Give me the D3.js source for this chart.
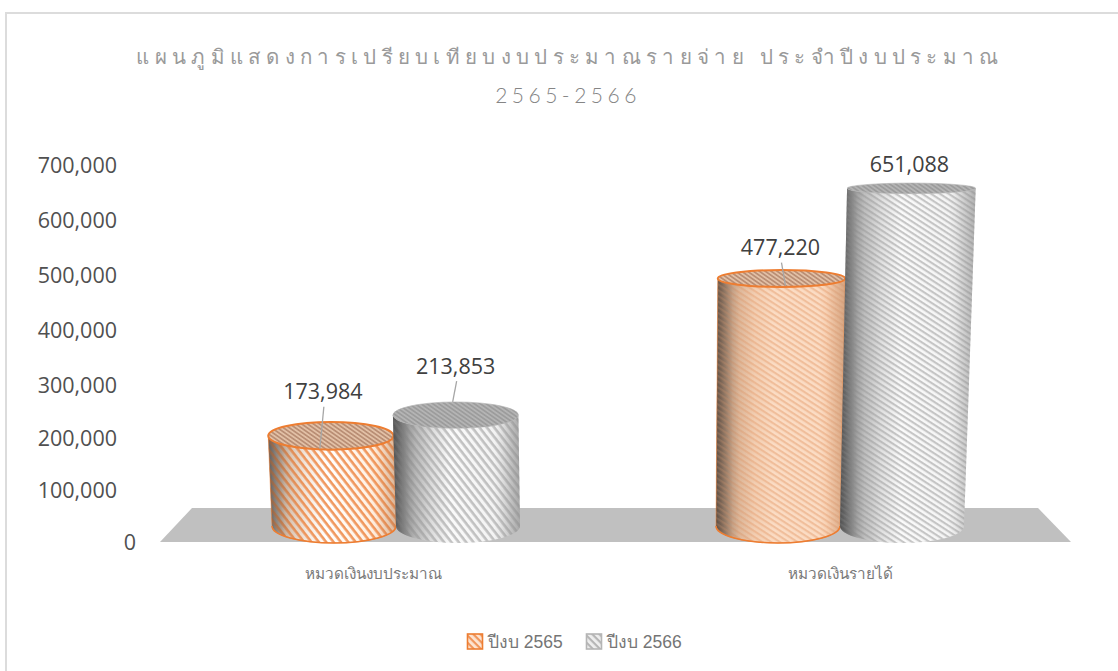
<!DOCTYPE html>
<html><head><meta charset="utf-8">
<script src="https://cdn.jsdelivr.net/npm/d3@7"></script>
<style>html,body{margin:0;padding:0;background:#fff}svg{display:block}</style>
</head><body><svg id="c" width="1118" height="671"></svg>
<script>
const categories = ["หมวดเงินงบประมาณ", "หมวดเงินรายได้"];
const seriesNames = ["ปีงบ 2565", "ปีงบ 2566"];
const values2565 = [173984, 477220];
const values2566 = [213853, 651088];
const yTicks = [0, 100000, 200000, 300000, 400000, 500000, 600000, 700000];
const titleLines = ["แผนภูมิแสดงการเปรียบเทียบงบประมาณรายจ่าย ประจำปีงบประมาณ", "2565-2566"];

const svg = d3.select("#c");
const defs = svg.append("defs");
const fmt = d3.format(",");
const FONT = "'Open Sans','Noto Sans',sans-serif";
const THIN = "'Liberation Sans','Noto Sans',sans-serif";
const LIGHT = "'Lato','Noto Sans',sans-serif";

// frame: only the top and left edges are visible
svg.append("path").attr("d","M6,671 V13 H1118").attr("fill","none").attr("stroke","#dcdcdc").attr("stroke-width",2);

// scales
const y = d3.scaleLinear().domain([0,700000]).range([526,163]);
const yLabel = d3.scaleLinear().domain([0,200000,300000,700000]).range([541,437,384,164]);
const ry = d3.scaleLinear().domain([0,700000]).range([17,4.4]);
const spread = d3.scaleLinear().domain([0,700000]).range([1,1.04]);
const x0 = d3.scaleBand().domain(categories).range([174,1062]);
const barW = 124, vanishX = 650;
const cx = (c,s) => x0(c)+x0.bandwidth()/2 + (seriesNames.indexOf(s)*2-1)*barW/2;

// floor
svg.append("polygon").attr("points",[[192,508],[1038,508],[1071,542],[160,542]].join(" ")).attr("fill","#c0c0c0");

const palette = {
  [seriesNames[0]]: {stripe:["#ee8d4e","#e9aa80"], edge:"#ed7d31",
     shade:[["#8d8d8d","#e6cdb8","#ffffff","#fff1e4","#f3c8a6"],["#8a6a52","#e8bd9c","#fbdcc4","#fbdcc4","#f0b68c"]]},
  [seriesNames[1]]: {stripe:["#a0a0a0","#a6a6a6"], edge:"#b5b5b5",
     shade:[["#707070","#b8b8b8","#fafafa","#f3f3f3","#b9b9b9"],["#707070","#c0c0c0","#fbfbfb","#f5f5f5","#c4c4c4"]]}
};
const edgeShade = defs.append("linearGradient").attr("id","edgeShade");
[[0,.55],[.06,.36],[.18,.08],[.3,0],[.85,0],[1,.14]].forEach(([o,a])=>
  edgeShade.append("stop").attr("offset",o).attr("stop-color","#3a3a3a").attr("stop-opacity",a));
seriesNames.forEach((s,i)=>{
  const p = palette[s];
  [0,1].forEach(c=>{
    const g = defs.append("linearGradient").attr("id",`grad${i}${c}`);
    [0,.13,.45,.8,1].forEach((o,k)=>g.append("stop").attr("offset",o).attr("stop-color",p.shade[c][k]));
  });
  [[5.8,52,0],[4.8,33,1]].forEach(([per,ang,c])=>{
    const pat = defs.append("pattern").attr("id",`st${i}${c}`).attr("patternUnits","userSpaceOnUse")
      .attr("width",per).attr("height",per).attr("patternTransform",`rotate(${ang})`);
    pat.append("rect").attr("width",per).attr("height",per*0.45).attr("fill",p.stripe[c]);
  });
  const pt = defs.append("pattern").attr("id","top"+i).attr("patternUnits","userSpaceOnUse").attr("width",3.4).attr("height",3.4).attr("patternTransform","rotate(35)");
  pt.append("rect").attr("width",3.4).attr("height",3.4).attr("fill",i?"#b4b4b4":"#e2c0a6");
  pt.append("rect").attr("width",3.4).attr("height",1.7).attr("fill",i?"#9c9c9c":"#b98e74");
  const ic = defs.append("pattern").attr("id","ic"+i).attr("patternUnits","userSpaceOnUse").attr("width",5).attr("height",5).attr("patternTransform","rotate(45)");
  ic.append("rect").attr("width",5).attr("height",5).attr("fill",i?"#efefef":"#fde6d4");
  ic.append("rect").attr("width",5).attr("height",2.2).attr("fill",i?"#b5b5b5":"#f0955a");
});
defs.append("filter").attr("id","soft").attr("x","-5%").attr("y","-5%").attr("width","110%").attr("height","110%")
  .append("feGaussianBlur").attr("stdDeviation",0.6);

const rowsLayout = [{dx:-8,dy:-45},{dx:0,dy:-50},{dx:-1,dy:-32},{dx:-2,dy:-25}];
const rows = [];
categories.forEach((c,ci)=>{
  rows.push({c,s:seriesNames[0],v:values2565[ci],ci,si:0});
  rows.push({c,s:seriesNames[1],v:values2566[ci],ci,si:1});
});
rows.forEach((r,i)=>Object.assign(r,rowsLayout[i]));

const geo = d => {
  const bx = cx(d.c,d.s), k = spread(d.v);
  const tx = vanishX+(bx-vanishX)*k, hw = barW/2*k;
  return {bx,tx,hw,ty:y(d.v),try:ry(d.v),by:y(0),bry:ry(0)};
};
const plot = svg.append("g").attr("filter","url(#soft)");
plot.selectAll("g.bar").data(rows).join("g").attr("class","bar").each(function(d){
  const g = d3.select(this), a = geo(d), p = palette[d.s];
  const body = `M${a.tx-a.hw},${a.ty} L${a.bx-barW/2},${a.by} A${barW/2},${a.bry} 0 0 0 ${a.bx+barW/2},${a.by} L${a.tx+a.hw},${a.ty} A${a.hw},${a.try} 0 0 1 ${a.tx-a.hw},${a.ty}Z`;
  g.append("path").attr("d",body).attr("fill",`url(#grad${d.si}${d.ci})`);
  g.append("path").attr("d",body).attr("fill",`url(#st${d.si}${d.ci})`).attr("opacity",d.si?0.62:(d.ci?0.6:0.9));
  g.append("path").attr("d",body).attr("fill","url(#edgeShade)");
  if(d.si===0){
    g.append("path").attr("d",body).attr("fill","none").attr("stroke",p.edge).attr("stroke-width",1).attr("opacity",.5);
    g.append("path").attr("d",`M${a.bx-barW/2},${a.by} A${barW/2},${a.bry} 0 0 0 ${a.bx+barW/2},${a.by}`).attr("fill","none").attr("stroke",p.edge).attr("stroke-width",1.6);
  }
  g.append("ellipse").attr("cx",a.tx).attr("cy",a.ty).attr("rx",a.hw).attr("ry",a.try)
    .attr("fill",`url(#top${d.si})`).attr("stroke",d.si?"#b0b0b0":p.edge).attr("stroke-width",d.si?0.6:2);
});

// leader lines + labels
const lab = svg.append("g");
rows.forEach(d=>{
  const a = geo(d), lx=a.tx+d.dx, ly=a.ty+d.dy;
  if(d.v<600000) lab.append("line").attr("x1",lx+1).attr("y1",ly+16).attr("x2",lx+(d.ci?5:-3)).attr("y2",d.si?a.ty-a.try:a.ty+a.try-1).attr("stroke","#a6a6a6").attr("stroke-width",1.3);
  lab.append("text").attr("x",lx).attr("y",ly).attr("text-anchor","middle").attr("dominant-baseline","central")
    .attr("font-family",FONT).attr("font-size",21.5).attr("fill","#404040").text(fmt(d.v));
});

// axis
const ax = svg.append("g");
ax.selectAll("text").data(yTicks).join("text").attr("x",d=>d===0?136:117).attr("y",d=>yLabel(d)).attr("text-anchor","end")
  .attr("dominant-baseline","central").attr("font-family",FONT).attr("font-size",21.5).attr("fill","#505050").text(d=>fmt(d));

svg.append("g").selectAll("text").data(categories).join("text")
  .attr("x",(d,i)=>x0(d)+x0.bandwidth()/2+[-23,0][i]).attr("y",573).attr("text-anchor","middle").attr("dominant-baseline","central")
  .attr("font-family",THIN).attr("font-size",15.3).attr("fill","#7a7a7a").text(d=>d);

// title
svg.append("g").selectAll("text").data(titleLines).join("text")
  .attr("x",(d,i)=>[570,568][i]).attr("y",(d,i)=>56+i*38).attr("text-anchor","middle").attr("dominant-baseline","central")
  .attr("font-family",LIGHT).attr("font-weight",300).attr("font-size",(d,i)=>[20.5,21][i]).attr("letter-spacing",(d,i)=>[5.3,4.5][i]).attr("fill",(d,i)=>["#9a9a9a","#858585"][i]).text(d=>d);

// legend
const leg = svg.append("g").selectAll("g").data(seriesNames).join("g").attr("transform",(d,i)=>`translate(${[467.5,586.5][i]},634)`);
leg.append("rect").attr("width",15).attr("height",15).attr("fill",(d,i)=>`url(#ic${i})`).attr("stroke",d=>palette[d].edge).attr("stroke-width",1.6);
leg.append("text").attr("x",20.5).attr("y",8).attr("dominant-baseline","central").attr("font-family",THIN).attr("font-size",17.5).attr("fill","#757575").text(d=>d);
</script></body></html>
